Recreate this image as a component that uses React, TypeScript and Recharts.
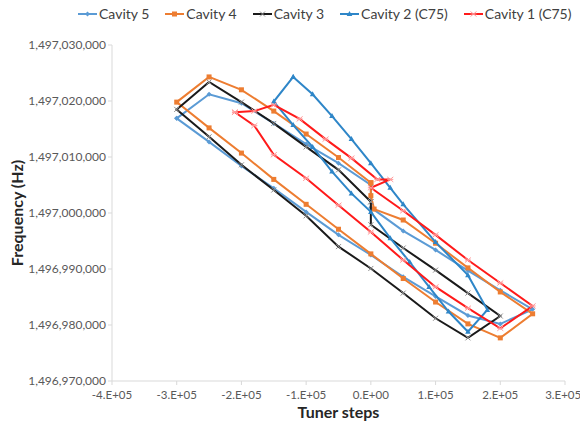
import { ScatterChart, Scatter, XAxis, YAxis } from "recharts";

// tuner steps and measured frequency (Hz) for each cavity, in measurement order
const cavity5Steps = [-300000, -250000, -200000, -150000, -100000, -50000, 0, 0, 50000, 100000, 150000, 200000, 250000, 200000, 150000, 100000, 50000, 0, -50000, -100000, -150000, -200000, -250000, -300000];
const cavity5Freq = [1497016900, 1497021200, 1497019600, 1497016000, 1497012300, 1497008900, 1497005000, 1497001000, 1496996800, 1496993400, 1496989700, 1496986200, 1496982800, 1496980200, 1496981700, 1496985100, 1496988600, 1496992500, 1496996100, 1497000200, 1497004400, 1497008400, 1497012700, 1497016900];

const cavity4Steps = [0, 0, 5000, 50000, 100000, 150000, 200000, 250000, 200000, 150000, 100000, 50000, 0, -50000, -100000, -150000, -200000, -250000, -300000, -250000, -200000, -150000, -100000, -50000, 0];
const cavity4Freq = [1497005400, 1497003100, 1497000700, 1496998750, 1496994600, 1496990200, 1496985900, 1496982000, 1496977700, 1496980200, 1496984100, 1496988300, 1496992700, 1496997100, 1497001550, 1497006000, 1497010700, 1497015200, 1497019800, 1497024300, 1497022000, 1497018200, 1497014100, 1497009900, 1497005400];

const cavity3Steps = [0, 0, 50000, 100000, 150000, 200000, 150000, 100000, 50000, 0, -50000, -100000, -150000, -200000, -250000, -300000, -250000, -200000, -150000, -100000, -50000, 0];
const cavity3Freq = [1497002000, 1496997900, 1496993750, 1496989800, 1496985700, 1496981600, 1496977700, 1496981200, 1496985700, 1496990100, 1496994000, 1496999500, 1497004100, 1497008600, 1497013600, 1497018500, 1497023400, 1497019800, 1497016000, 1497011800, 1497007700, 1497002000];

const cavity2Steps = [-120000, -90000, -60000, -30000, 0, 30000, 50000, 100000, 150000, 180000, 150000, 120000, 90000, 60000, 30000, 0, -30000, -60000, -90000, -120000, -150000, -120000];
const cavity2Freq = [1497024300, 1497021200, 1497017300, 1497013200, 1497008900, 1497004500, 1497001550, 1496994800, 1496988900, 1496982700, 1496978800, 1496982400, 1496986800, 1496991250, 1496995500, 1497000200, 1497003500, 1497007400, 1497011800, 1497015700, 1497019900, 1497024300];

const cavity1Steps = [-210000, -180000, -150000, -110000, -70000, -30000, 10000, 30000, 0, 50000, 100000, 150000, 200000, 250000, 200000, 150000, 100000, 50000, 0, -50000, -100000, -150000, -180000, -210000];
const cavity1Freq = [1497018000, 1497018200, 1497019300, 1497016800, 1497013200, 1497009800, 1497006000, 1497006000, 1497004500, 1497000400, 1496996100, 1496991600, 1496987500, 1496983400, 1496979400, 1496983000, 1496986800, 1496991600, 1496996600, 1497001400, 1497006200, 1497010400, 1497015600, 1497018000];

const xTicks = [-400000, -300000, -200000, -100000, 0, 100000, 200000, 300000];
const yTicks = [1496970000, 1496980000, 1496990000, 1497000000, 1497010000, 1497020000, 1497030000];

const toPoints = (xs: number[], ys: number[]) => xs.map((x, i) => ({ x, y: ys[i] }));

type Marker = "diamond" | "square" | "cross" | "triangle" | "star";

const series = [
  { name: "Cavity 5", color: "#5b9bd5", marker: "diamond" as Marker, data: toPoints(cavity5Steps, cavity5Freq) },
  { name: "Cavity 4", color: "#ed7d31", marker: "square" as Marker, data: toPoints(cavity4Steps, cavity4Freq) },
  { name: "Cavity 3", color: "#1a1a1a", marker: "cross" as Marker, data: toPoints(cavity3Steps, cavity3Freq) },
  { name: "Cavity 2 (C75)", color: "#2e86c8", marker: "triangle" as Marker, data: toPoints(cavity2Steps, cavity2Freq) },
  { name: "Cavity 1 (C75)", color: "#ff1a1a", marker: "star" as Marker, data: toPoints(cavity1Steps, cavity1Freq) },
];

const FONT = "Lato, 'Open Sans', sans-serif";

function drawMarker(kind: Marker, color: string, cx: number, cy: number) {
  switch (kind) {
    case "square":
      return <rect x={cx - 2.5} y={cy - 2.5} width={5} height={5} fill={color} />;
    case "diamond":
      return <path d={`M${cx},${cy - 2.5}L${cx + 2.5},${cy}L${cx},${cy + 2.5}L${cx - 2.5},${cy}Z`} fill={color} />;
    case "triangle":
      return <path d={`M${cx},${cy - 3}L${cx + 2.8},${cy + 2}L${cx - 2.8},${cy + 2}Z`} fill={color} />;
    case "cross":
      return (
        <path d={`M${cx - 2.5},${cy - 2.5}L${cx + 2.5},${cy + 2.5}M${cx - 2.5},${cy + 2.5}L${cx + 2.5},${cy - 2.5}`} stroke="#8c8c8c" strokeWidth={1} />
      );
    default:
      return (
        <path d={`M${cx - 3},${cy - 2.5}L${cx + 3},${cy + 2.5}M${cx - 3},${cy + 2.5}L${cx + 3},${cy - 2.5}M${cx - 3},${cy}L${cx + 3},${cy}`} stroke="#ff9a9a" strokeWidth={1} />
      );
  }
}

const fmtX = (v: number) => (v === 0 ? "0.E+00" : `${v / 100000}.E+05`);
const fmtY = (v: number) => v.toLocaleString("en-US");

function LegendRow() {
  return (
    <div
      style={{
        position: "absolute",
        top: 5,
        left: 78,
        display: "flex",
        gap: 16,
        fontFamily: FONT,
        fontSize: 14,
        color: "#404040",
        whiteSpace: "nowrap",
      }}
    >
      {series.map((s) => (
        <div key={s.name} style={{ display: "flex", alignItems: "center" }}>
          <svg width={19} height={10} style={{ marginRight: 2 }}>
            <line x1={0} y1={5} x2={19} y2={5} stroke={s.color} strokeWidth={2} />
            {drawMarker(s.marker, s.color, 9.5, 5)}
          </svg>
          <span>{s.name}</span>
        </div>
      ))}
    </div>
  );
}

export default function App() {
  return (
    <div style={{ position: "relative", width: 580, height: 422, background: "#fff" }}>
      <style>{"body{margin:0}"}</style>
      <ScatterChart width={580} height={422} margin={{ top: 45, right: 15, bottom: 0, left: 0 }}>
        <XAxis
          type="number"
          dataKey="x"
          domain={[-400000, 300000]}
          ticks={xTicks}
          tickFormatter={fmtX}
          height={41}
          stroke="#d9d9d9"
          tick={{ fill: "#595959", fontSize: 11.5, fontFamily: FONT, dy: 4 }}
          tickSize={4}
          label={{
            value: "Tuner steps",
            position: "insideBottom",
            offset: 4,
            style: { fill: "#262626", fontSize: 16, fontWeight: 700, fontFamily: FONT },
          }}
        />
        <YAxis
          type="number"
          dataKey="y"
          domain={[1496970000, 1497030000]}
          ticks={yTicks}
          tickFormatter={fmtY}
          width={112}
          stroke="#d9d9d9"
          tick={{ fill: "#595959", fontSize: 12, fontFamily: FONT }}
          tickSize={4}
          label={{
            value: "Frequency (Hz)",
            angle: -90,
            position: "insideLeft",
            offset: 17,
            style: { fill: "#262626", fontSize: 16, fontWeight: 700, fontFamily: FONT, textAnchor: "middle" },
          }}
        />
        {series.map((s) => (
          <Scatter
            key={s.name}
            name={s.name}
            data={s.data}
            line={{ stroke: s.color, strokeWidth: 2 }}
            shape={(p: any) => drawMarker(s.marker, s.color, p.cx, p.cy)}
            isAnimationActive={false}
          />
        ))}
      </ScatterChart>
      <LegendRow />
    </div>
  );
}
